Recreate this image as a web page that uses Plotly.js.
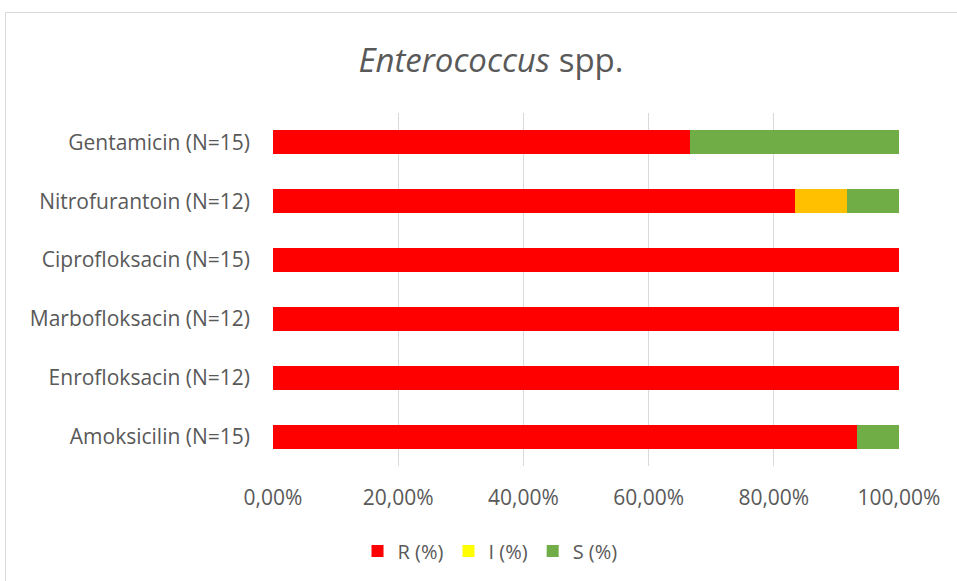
<!DOCTYPE html>
<html>
<head>
<meta charset="utf-8">
<script src="https://cdn.plot.ly/plotly-3.0.1.min.js"></script>
<style>
html,body{margin:0;padding:0;overflow:hidden;background:#fff;}
#wrap{position:relative;width:957px;height:581px;}
#chart{width:957px;height:581px;}
#frame{position:absolute;left:5px;top:12px;width:1000px;height:700px;border:1px solid #d9d9d9;pointer-events:none;}
</style>
</head>
<body>
<div id="wrap"><div id="chart"></div><div id="frame"></div></div>
<script>
// Data (bottom to top)
const categories = ["Amoksicilin (N=15)", "Enrofloksacin (N=12)", "Marbofloksacin (N=12)", "Ciprofloksacin (N=15)", "Nitrofurantoin (N=12)", "Gentamicin (N=15)"];
const R = [93.33, 100, 100, 100, 83.33, 66.67];
const I = [0, 0, 0, 0, 8.33, 0];
const S = [6.67, 0, 0, 0, 8.34, 33.33];
const tickVals = [0, 20, 40, 60, 80, 100];
const tickText = ["0,00%", "20,00%", "40,00%", "60,00%", "80,00%", "100,00%"];
const seriesNames = ["R (%)", "I (%)", "S (%)"];

const iColors = ["#FFFF00", "#FFFF00", "#FFFF00", "#FFFF00", "#FFC000", "#FFFF00"];

const traces = [
  {type: "bar", orientation: "h", name: seriesNames[0], y: categories, x: R, marker: {color: "#FF0000", line: {width: 0}}},
  {type: "bar", orientation: "h", name: seriesNames[1], y: categories, x: I, marker: {color: iColors, line: {width: 0}}},
  {type: "bar", orientation: "h", name: seriesNames[2], y: categories, x: S, marker: {color: "#70AD47", line: {width: 0}}}
];

const font = "'Open Sans', Lato, sans-serif";
const layout = {
  width: 957, height: 581,
  barmode: "stack",
  bargap: 0.59,
  margin: {l: 273, r: 58, t: 113, b: 114},
  paper_bgcolor: "#ffffff",
  plot_bgcolor: "#ffffff",
  font: {family: font, color: "#595959", size: 20},
  title: {
    text: "<i>Enterococcus</i> spp.",
    font: {family: font, size: 33, color: "#595959"},
    xref: "container", x: 0.513, xanchor: "center",
    yref: "container", y: 1 - 60/581, yanchor: "middle"
  },
  xaxis: {
    range: [0, 100],
    tickvals: tickVals, ticktext: tickText,
    showgrid: true, gridcolor: "#d9d9d9", gridwidth: 1,
    zeroline: false, showline: false,
    ticks: "", ticklabelstandoff: 17,
    tickfont: {size: 21, color: "#595959"},
    fixedrange: true
  },
  yaxis: {
    type: "category",
    showgrid: false, zeroline: false, showline: false,
    ticks: "", ticklabelstandoff: 22,
    tickfont: {size: 21, color: "#595959"},
    fixedrange: true
  },
  showlegend: true,
  legend: {
    orientation: "h",
    x: (490 - 273) / 626, xanchor: "center",
    y: (467 - 551) / 354, yanchor: "middle",
    font: {size: 20, color: "#595959"},
    traceorder: "normal",
    itemwidth: 30
  }
};

Plotly.newPlot("chart", traces, layout, {displayModeBar: false, staticPlot: true});
</script>
</body>
</html>
